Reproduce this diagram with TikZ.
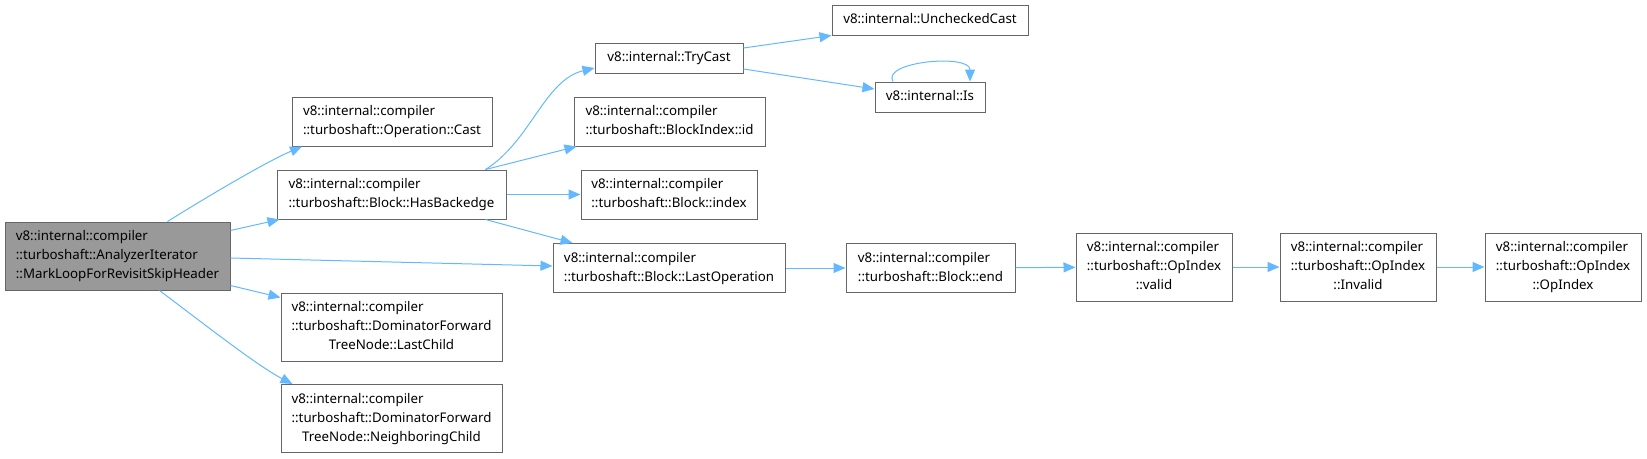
\documentclass[tikz,border=0pt]{standalone}
\usepackage{fontspec}
\setmainfont{Noto Sans}
\usepackage{tikz}
\usetikzlibrary{arrows.meta,positioning}
\definecolor{cEdge}{HTML}{63B8FF}
\definecolor{cLine}{HTML}{666666}
\definecolor{cMain}{HTML}{999999}
\newcommand{\fnt}[1]{\begin{tabular}{@{}l@{}}#1\end{tabular}}
\newcommand{\lastc}[1]{\multicolumn{1}{@{}c@{}}{#1}}
\tikzset{
  fn/.style   = {rectangle, draw=cLine, fill=white, line width=1pt, inner sep=0pt,
                 font=\fontsize{13.3}{19}\selectfont},
  hl/.style   = {fn, fill=cMain},
  wd/.style   = {minimum width=#1pt},
  one/.style  = {minimum height=30pt},
  two/.style  = {minimum height=49pt},
  three/.style= {minimum height=68pt},
  ln/.style   = {-{Triangle[length=12pt,width=10pt]}, draw=cEdge, line width=1pt},
}

\begin{document}
\begin{tikzpicture}[x=1pt,y=-1pt]
  \useasboundingbox (0,0) rectangle (1647,458);
  \node[hl, wd=225, three] (main) at (117.5,256) {\fnt{v8::internal::compiler\\::turboshaft::AnalyzerIterator\\::MarkLoopForRevisitSkipHeader}};
  \node[fn, wd=200, two] (cast) at (392,121.5) {\fnt{v8::internal::compiler\\::turboshaft::Operation::Cast}};
  \node[fn, wd=229, two] (hb) at (391.5,194.5) {\fnt{v8::internal::compiler\\::turboshaft::Block::HasBackedge}};
  \node[fn, wd=221, three] (lc) at (391.5,327) {\fnt{v8::internal::compiler\\::turboshaft::DominatorForward\\\lastc{TreeNode::LastChild}}};
  \node[fn, wd=221, three] (nc) at (391.5,418.5) {\fnt{v8::internal::compiler\\::turboshaft::DominatorForward\\\lastc{TreeNode::NeighboringChild}}};
  \node[fn, wd=148, one] (try) at (669,58) {\fnt{v8::internal::TryCast}};
  \node[fn, wd=196, one] (uc) at (930,20) {\fnt{v8::internal::UncheckedCast}};
  \node[fn, wd=110, one] (is) at (930,97) {\fnt{v8::internal::Is}};
  \node[fn, wd=191, two] (bid) at (669.5,121.5) {\fnt{v8::internal::compiler\\::turboshaft::BlockIndex::id}};
  \node[fn, wd=176, two] (bix) at (669,194.5) {\fnt{v8::internal::compiler\\::turboshaft::Block::index}};
  \node[fn, wd=232, two] (lop) at (669,268) {\fnt{v8::internal::compiler\\::turboshaft::Block::LastOperation}};
  \node[fn, wd=169, two] (end) at (930.5,268) {\fnt{v8::internal::compiler\\::turboshaft::Block::end}};
  \node[fn, wd=156, three] (val) at (1154,267) {\fnt{v8::internal::compiler\\::turboshaft::OpIndex\\\lastc{::valid}}};
  \node[fn, wd=156, three] (inv) at (1358,267) {\fnt{v8::internal::compiler\\::turboshaft::OpIndex\\\lastc{::Invalid}}};
  \node[fn, wd=156, three] (opi) at (1563,267) {\fnt{v8::internal::compiler\\::turboshaft::OpIndex\\\lastc{::OpIndex}}};

  \draw[ln] ([xshift=50pt]main.north) .. controls +(45,-28) and +(-35,15) .. ([xshift=-90pt]cast.south);
  \draw[ln] ([yshift=-9pt]main.north east) -- ([xshift=3pt]hb.south west);
  \draw[ln] ([yshift=-2pt]main.east) -- ([yshift=2pt]lop.west);
  \draw[ln] ([yshift=5pt]main.south east) -- ([yshift=-5pt]lc.north west);
  \draw[ln] ([xshift=42pt]main.south) .. controls +(40,30) and +(-35,-18) .. ([xshift=-99pt]nc.north);
  \draw[ln] ([xshift=-21pt]hb.north east) .. controls +(45,-28) and +(-50,12) .. ([yshift=-10pt]try.west);
  \draw[ln] ([xshift=-21pt]hb.north east) -- ([xshift=3pt]bid.south west);
  \draw[ln] (hb.east) -- (bix.west);
  \draw[ln] ([xshift=-21pt]hb.south east) -- ([xshift=20pt]lop.north west);
  \draw[ln] ([yshift=10pt]try.east) -- (uc.south west);
  \draw[ln] ([yshift=-11pt]try.east) -- ([yshift=8pt]is.west);
  \draw[ln] ([xshift=-37pt]is.north) .. controls +(-12,-20) and +(0,-28) .. ([xshift=40pt]is.north);
  \draw[ln] (lop) -- (end); \draw[ln] (end) -- (val);
  \draw[ln] (val) -- (inv); \draw[ln] (inv) -- (opi);
\end{tikzpicture}
\end{document}
